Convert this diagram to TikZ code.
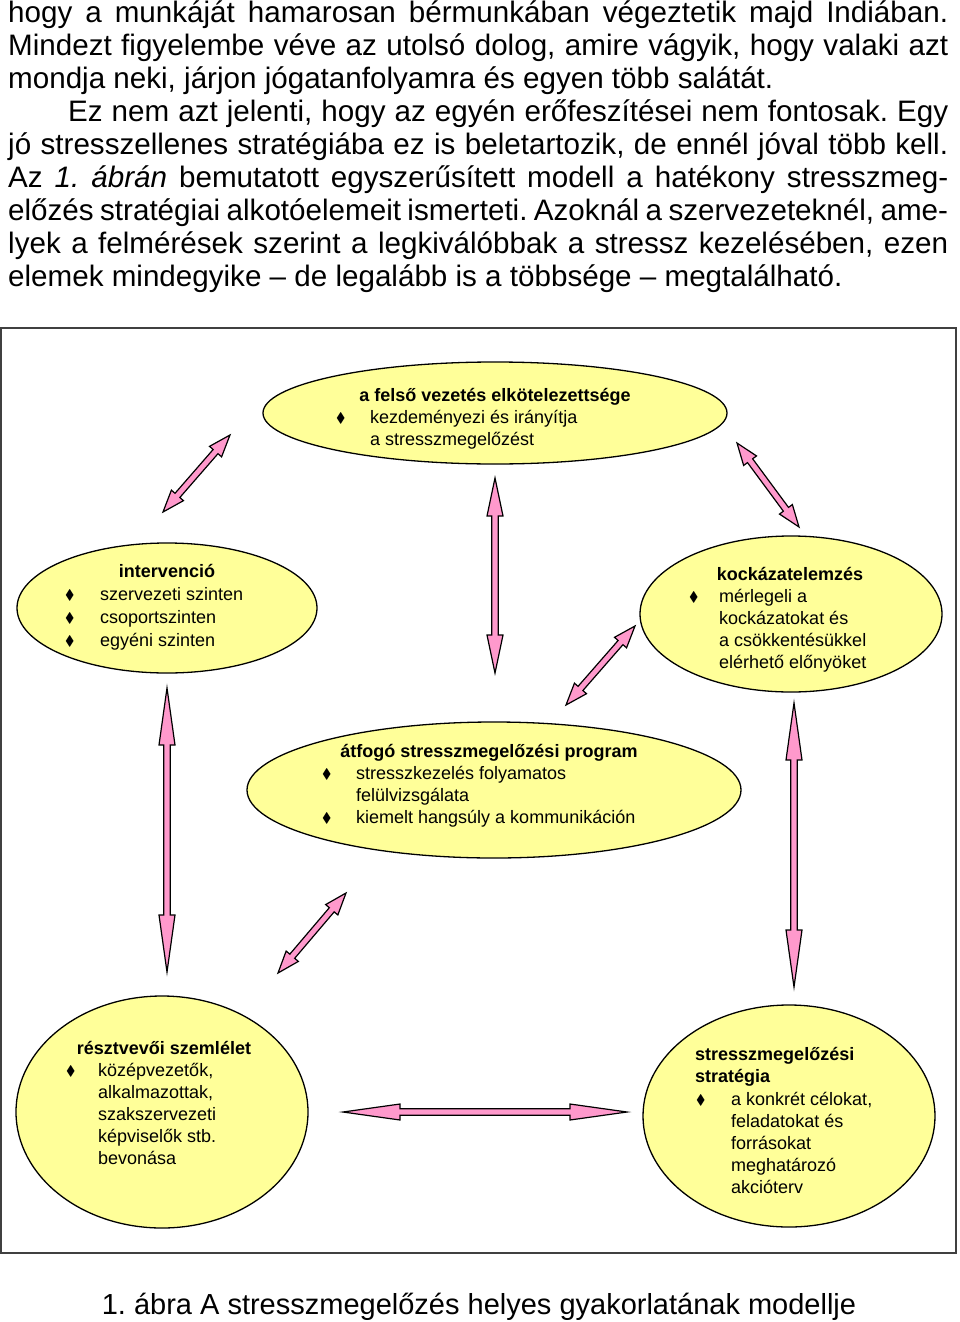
\documentclass[tikz,border=0pt]{standalone}
\usepackage{amssymb}
\usepackage{fontspec}
\setmainfont{Liberation Sans}
\usetikzlibrary{shapes.geometric,calc}

\definecolor{ellyellow}{RGB}{255,255,153}
\definecolor{arrowpink}{RGB}{255,153,204}

% bullet of the lists in the ellipses
\newcommand{\bul}[1][34pt]{\makebox[#1][l]{\raisebox{0.3pt}{\fontsize{14}{14}\selectfont$\blacklozenge$}}}
% block arrow with a head at both ends: from, to, head length
\newcommand{\dblarrow}[3]{%
  \coordinate (ahA) at ($(#1)!#3!(#2)$);
  \coordinate (ahB) at ($(#2)!#3!(#1)$);
  \filldraw[arrowbody] (#1) -- ($(ahA)!8pt!-90:(#2)$) -- ($(ahA)!3.2pt!-90:(#2)$)
    -- ($(ahB)!3.2pt!90:(#1)$) -- ($(ahB)!8pt!90:(#1)$) -- (#2)
    -- ($(ahB)!8pt!-90:(#1)$) -- ($(ahB)!3.2pt!-90:(#1)$)
    -- ($(ahA)!3.2pt!90:(#2)$) -- ($(ahA)!8pt!90:(#2)$) -- cycle;}

\tikzset{
  ell/.style={draw=black, fill=ellyellow, shape=ellipse, line width=1.3pt, inner sep=0pt},
  ttl/.style={font=\fontsize{18}{22}\selectfont\bfseries, anchor=base, inner sep=0pt},
  bdy/.style={font=\fontsize{18}{22}\selectfont, anchor=base west, align=left, inner sep=0pt},
  arrowbody/.style={draw=black, fill=arrowpink, line width=1.2pt}
}

\begin{document}
\frenchspacing
\begin{tikzpicture}[x=1pt, y=-1pt]
\useasboundingbox (0,0) rectangle (960,1322);

% text above the figure (base = last line)
\node[anchor=base west, align=left, inner sep=0pt, font=\fontsize{29.6}{33}\selectfont] (par) at (8,286) {%
\makebox[940pt][s]{hogy a munkáját hamarosan bérmunkában végeztetik majd Indiában.}\\
\makebox[940pt][s]{Mindezt figyelembe véve az utolsó dolog, amire vágyik, hogy valaki azt}\\
mondja neki, járjon jógatanfolyamra és egyen több salátát.\\
\makebox[940pt][s]{\hspace*{60pt}Ez nem azt jelenti, hogy az egyén erőfeszítései nem fontosak. Egy}\\
\makebox[940pt][s]{jó stresszellenes stratégiába ez is beletartozik, de ennél jóval több kell.}\\
\makebox[940pt][s]{Az \textit{1. ábrán} bemutatott egyszerűsített modell a hatékony stresszmeg-}\\
\makebox[940pt][s]{előzés stratégiai alkotóelemeit ismerteti. Azoknál a szervezeteknél, ame-}\\
\makebox[940pt][s]{lyek a felmérések szerint a legkiválóbbak a stressz kezelésében, ezen}\\
elemek mindegyike – de legalább is a többsége – megtalálható.};

% frame of the figure
\draw[line width=1.5pt, black!75] (1,328) rectangle (956,1253);

% ellipses
\node[ell, minimum width=464pt, minimum height=102pt] (e_top) at (495,413) {};
\node[ell, minimum width=300pt, minimum height=130pt] (e_int) at (167,608) {};
\node[ell, minimum width=302pt, minimum height=156pt] (e_kock) at (791,614) {};
\node[ell, minimum width=494pt, minimum height=136pt] (e_prog) at (494,790) {};
\node[ell, minimum width=292pt, minimum height=232pt] (e_resz) at (162,1112) {};
\node[ell, minimum width=292pt, minimum height=222pt] (e_strat) at (789,1116) {};

% texts in the ellipses (body nodes sit on their last line)
\node[ttl] (t_top) at (495,401) {a felső vezetés elkötelezettsége};
\node[bdy] (b_top) at (336,445) {\bul kezdeményezi és irányítja\\\hspace*{34pt}a stresszmegelőzést};

\node[ttl] (t_int) at (167,577) {intervenció};
\node[bdy, font=\fontsize{18}{23}\selectfont] (b_int) at (65,646) {\bul[35pt]szervezeti szinten\\\bul[35pt]csoportszinten\\\bul[35pt]egyéni szinten};

\node[ttl] (t_kock) at (790,580) {kockázatelemzés};
\node[bdy] (b_kock) at (689,668) {\bul[30pt]mérlegeli a\\\hspace*{30pt}kockázatokat és\\\hspace*{30pt}a csökkentésükkel\\\hspace*{30pt}elérhető előnyöket};

\node[ttl] (t_prog) at (489,757) {átfogó stresszmegelőzési program};
\node[bdy] (b_prog) at (322,823) {\bul stresszkezelés folyamatos\\\hspace*{34pt}felülvizsgálata\\\bul kiemelt hangsúly a kommunikáción};

\node[ttl] (t_resz) at (164,1054) {résztvevői szemlélet};
\node[bdy] (b_resz) at (66,1164) {\bul[32pt]középvezetők,\\\hspace*{32pt}alkalmazottak,\\\hspace*{32pt}szakszervezeti\\\hspace*{32pt}képviselők stb.\\\hspace*{32pt}bevonása};

\node[ttl, anchor=base west, align=left] (t_strat) at (695,1082) {stresszmegelőzési\\stratégia};
\node[bdy] (b_strat) at (696,1193) {\bul[35pt]a konkrét célokat,\\\hspace*{35pt}feladatokat és\\\hspace*{35pt}forrásokat\\\hspace*{35pt}meghatározó\\\hspace*{35pt}akcióterv};

% ends of the arrows
\coordinate (a_tl1) at (163,512);  \coordinate (a_tl2) at (230,435);
\coordinate (a_tr1) at (737,443);  \coordinate (a_tr2) at (799,527);
\coordinate (a_c1) at (495,478);   \coordinate (a_c2) at (495,673);
\coordinate (a_m1) at (566,705);   \coordinate (a_m2) at (635,626);
\coordinate (a_l1) at (167,688);   \coordinate (a_l2) at (167,972);
\coordinate (a_r1) at (794,703);   \coordinate (a_r2) at (794,987);
\coordinate (a_d1) at (278,973);   \coordinate (a_d2) at (346,893);
\coordinate (a_h1) at (343,1112);  \coordinate (a_h2) at (627,1112);

\dblarrow{a_tl1}{a_tl2}{22pt}
\dblarrow{a_tr1}{a_tr2}{22pt}
\dblarrow{a_c1}{a_c2}{38pt}
\dblarrow{a_m1}{a_m2}{22pt}
\dblarrow{a_l1}{a_l2}{57pt}
\dblarrow{a_r1}{a_r2}{57pt}
\dblarrow{a_d1}{a_d2}{22pt}
\dblarrow{a_h1}{a_h2}{57pt}

% caption
\node[anchor=base, inner sep=0pt, font=\fontsize{29}{33}\selectfont] (cap) at (479,1314) {1. ábra A stresszmegelőzés helyes gyakorlatának modellje};
\end{tikzpicture}
\end{document}
